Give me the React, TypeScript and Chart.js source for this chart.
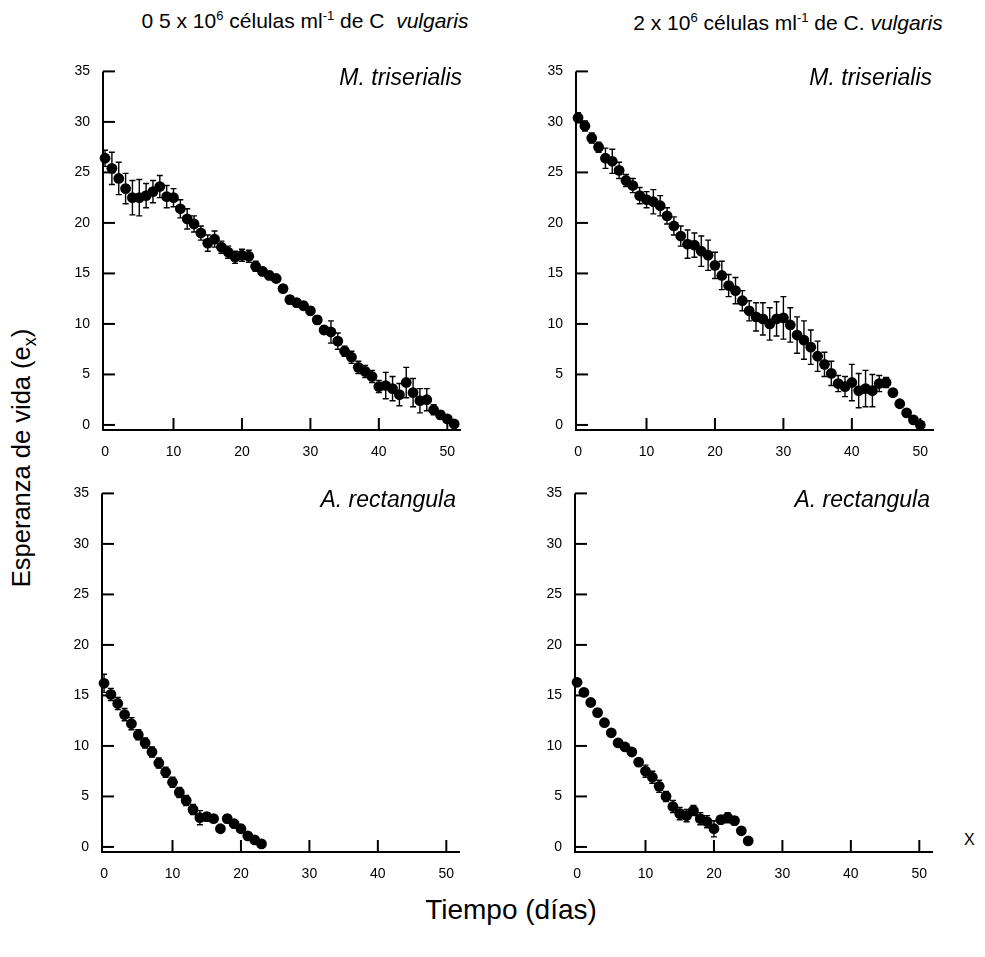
import React, { useEffect, useRef } from "react";
import { Chart, registerables } from "chart.js";

Chart.register(...registerables);

// ---- Data ----
const days = [0, 1, 2, 3, 4, 5, 6, 7, 8, 9, 10, 11, 12, 13, 14, 15, 16, 17, 18, 19, 20, 21, 22, 23, 24, 25, 26, 27, 28, 29, 30, 31, 32, 33, 34, 35, 36, 37, 38, 39, 40, 41, 42, 43, 44, 45, 46, 47, 48, 49, 50, 51];

// M. triserialis, 0.5 x 10^6 cells/ml
const mt05 = [26.4, 25.4, 24.4, 23.4, 22.5, 22.5, 22.7, 23.1, 23.6, 22.6, 22.5, 21.4, 20.4, 19.9, 19.0, 18.0, 18.4, 17.6, 17.1, 16.6, 16.8, 16.7, 15.7, 15.2, 14.8, 14.5, 13.5, 12.4, 12.1, 11.8, 11.3, 10.4, 9.4, 9.2, 8.3, 7.3, 6.7, 5.7, 5.3, 4.8, 3.8, 3.9, 3.6, 3.0, 4.2, 3.2, 2.4, 2.5, 1.5, 1.0, 0.6, 0.1];
const mt05Err = [0.8, 1.6, 1.6, 1.5, 1.7, 1.8, 1.2, 1.1, 1.1, 1.1, 0.9, 0.9, 1.0, 0.8, 0.7, 0.8, 0.8, 0.6, 0.6, 0.6, 0.6, 0.6, 0.5, 0.4, 0.4, 0.3, 0.3, 0.4, 0.4, 0.4, 0.4, 0.4, 0.4, 1.1, 0.8, 0.5, 0.6, 0.6, 0.6, 0.6, 0.6, 1.3, 1.2, 1.1, 1.5, 1.4, 1.2, 1.1, 0.5, 0.4, 0.3, 0.2];

// M. triserialis, 2 x 10^6 cells/ml
const mt2 = [30.4, 29.6, 28.4, 27.5, 26.4, 26.1, 25.2, 24.2, 23.7, 22.7, 22.3, 22.1, 21.7, 20.7, 19.7, 18.7, 17.9, 17.8, 17.2, 16.8, 15.8, 14.8, 13.8, 13.3, 12.3, 11.3, 10.7, 10.5, 10.0, 10.5, 10.6, 9.9, 8.9, 8.4, 7.7, 6.8, 6.0, 5.1, 4.1, 3.8, 4.2, 3.4, 3.6, 3.4, 4.1, 4.2, 3.2, 2.1, 1.2, 0.5, 0.0];
const mt2Err = [0.5, 0.5, 0.5, 0.5, 1.0, 1.2, 0.8, 0.6, 0.7, 0.8, 0.8, 1.2, 1.0, 0.8, 0.9, 1.0, 1.4, 1.2, 1.5, 1.5, 1.3, 1.4, 1.1, 1.3, 1.0, 1.0, 1.4, 1.6, 1.6, 1.7, 2.1, 1.7, 1.8, 1.9, 1.7, 1.5, 1.2, 1.2, 0.8, 1.0, 1.8, 1.7, 1.8, 1.6, 0.8, 0.5, 0.2, 0.2, 0.2, 0.2, 0.2];

// A. rectangula, 0.5 x 10^6 cells/ml
const ar05 = [16.2, 15.1, 14.2, 13.1, 12.2, 11.1, 10.3, 9.4, 8.3, 7.4, 6.4, 5.4, 4.6, 3.7, 2.9, 3.0, 2.8, 1.8, 2.8, 2.3, 1.8, 1.1, 0.7, 0.3];
const ar05Err = [0.9, 0.6, 0.6, 0.6, 0.6, 0.5, 0.5, 0.5, 0.5, 0.5, 0.5, 0.5, 0.5, 0.5, 0.7, 0.4, 0.3, 0.3, 0.4, 0.4, 0.3, 0.3, 0.3, 0.2];

// A. rectangula, 2 x 10^6 cells/ml
const ar2 = [16.3, 15.3, 14.3, 13.3, 12.3, 11.3, 10.3, 9.9, 9.4, 8.4, 7.5, 6.9, 6.0, 5.0, 4.0, 3.3, 3.1, 3.6, 2.8, 2.5, 1.8, 2.7, 2.9, 2.6, 1.6, 0.6];
const ar2Err = [0.3, 0.3, 0.3, 0.3, 0.3, 0.3, 0.3, 0.3, 0.3, 0.3, 0.6, 0.6, 0.6, 0.5, 0.6, 0.6, 0.6, 0.5, 0.6, 0.6, 0.8, 0.4, 0.5, 0.4, 0.3, 0.2];

const yTicks = [0, 5, 10, 15, 20, 25, 30, 35];
const xTicks = [0, 10, 20, 30, 40, 50];

// ---- Geometry ----
const PX_DAY = 6.84;
const PX_UNIT = 10.2;
const X_MIN = -0.3;
const X_MAX = 52;
const Y_MIN = -0.5;
const Y_MAX = 35;
const PAD_L = 40;
const PAD_T = 10;
const PAD_R = 12;
const PAD_B = 32;
const FONT = "'Liberation Sans', Arial, sans-serif";

const axesPlugin = {
  id: "axesAndErrors",
  beforeDatasetsDraw(chart: any) {
    const { ctx, chartArea: a } = chart;
    const x = chart.scales.x;
    const y = chart.scales.y;
    ctx.save();
    ctx.strokeStyle = "#000";
    // error bars
    chart.data.datasets.forEach((ds: any) => {
      const errs: number[] = ds.errors;
      if (!errs) return;
      ctx.lineWidth = 1.4;
      ds.data.forEach((p: any, i: number) => {
        const e = errs[i];
        if (!e) return;
        const px = x.getPixelForValue(p.x);
        const yt = y.getPixelForValue(p.y + e);
        const yb = y.getPixelForValue(p.y - e);
        ctx.beginPath();
        ctx.moveTo(px, yt);
        ctx.lineTo(px, yb);
        ctx.moveTo(px - 3, yt);
        ctx.lineTo(px + 3, yt);
        ctx.moveTo(px - 3, yb);
        ctx.lineTo(px + 3, yb);
        ctx.stroke();
      });
    });
    // axis lines
    ctx.lineWidth = 2;
    ctx.beginPath();
    ctx.moveTo(a.left, y.getPixelForValue(Y_MAX));
    ctx.lineTo(a.left, a.bottom);
    ctx.lineTo(a.right, a.bottom);
    ctx.stroke();
    // inward ticks
    yTicks.forEach((t) => {
      const py = y.getPixelForValue(t);
      ctx.beginPath();
      ctx.moveTo(a.left, py);
      ctx.lineTo(a.left + 12, py);
      ctx.stroke();
    });
    xTicks.forEach((t) => {
      if (t === 0) return;
      const px = x.getPixelForValue(t);
      ctx.beginPath();
      ctx.moveTo(px, a.bottom);
      ctx.lineTo(px, a.bottom - 12);
      ctx.stroke();
    });
    ctx.restore();
  },
};

type PanelProps = {
  values: number[];
  errors: number[];
  x0: number;
  y0: number;
};

function Panel({ values, errors, x0, y0 }: PanelProps) {
  const ref = useRef<HTMLCanvasElement>(null);
  const areaW = (X_MAX - X_MIN) * PX_DAY;
  const areaH = (Y_MAX - Y_MIN) * PX_UNIT;
  const w = Math.round(PAD_L + areaW + PAD_R);
  const h = Math.round(PAD_T + areaH + PAD_B);
  const left = Math.round(x0 + X_MIN * PX_DAY - PAD_L);
  const top = Math.round(y0 - Y_MAX * PX_UNIT - PAD_T);

  useEffect(() => {
    if (!ref.current) return;
    const data = values.map((v, i) => ({ x: days[i], y: v }));
    const chart = new Chart(ref.current, {
      type: "scatter",
      data: {
        datasets: [
          {
            data,
            errors,
            showLine: false,
            pointRadius: 5.4,
            pointHoverRadius: 5.4,
            backgroundColor: "#000",
            borderColor: "#000",
            borderWidth: 0,
            clip: false,
          } as any,
        ],
      },
      options: {
        animation: false,
        responsive: false,
        events: [],
        layout: { padding: { left: 0, top: PAD_T, right: PAD_R, bottom: 0 } },
        plugins: { legend: { display: false }, tooltip: { enabled: false } },
        scales: {
          x: {
            type: "linear",
            min: X_MIN,
            max: X_MAX,
            grid: { display: false },
            border: { display: false },
            afterBuildTicks: (s: any) => {
              s.ticks = xTicks.map((v) => ({ value: v }));
            },
            afterFit: (s: any) => {
              s.height = PAD_B;
            },
            ticks: {
              color: "#000",
              padding: 6,
              maxRotation: 0,
              font: { family: FONT, size: 14 },
            },
          },
          y: {
            type: "linear",
            min: Y_MIN,
            max: Y_MAX,
            grid: { display: false },
            border: { display: false },
            afterBuildTicks: (s: any) => {
              s.ticks = yTicks.map((v) => ({ value: v }));
            },
            afterFit: (s: any) => {
              s.width = PAD_L;
            },
            ticks: {
              color: "#000",
              padding: 5,
              font: { family: FONT, size: 14 },
            },
          },
        },
      },
      plugins: [axesPlugin],
    });
    return () => chart.destroy();
  }, []);

  return (
    <canvas
      ref={ref}
      width={w}
      height={h}
      style={{ position: "absolute", left, top, width: w, height: h }}
    />
  );
}

const abs = (s: React.CSSProperties): React.CSSProperties => ({
  position: "absolute",
  fontFamily: FONT,
  color: "#000",
  whiteSpace: "nowrap",
  lineHeight: 1,
  ...s,
});

const supStyle: React.CSSProperties = { fontSize: "0.62em", verticalAlign: "0.6em", lineHeight: 0 };

export default function App() {
  return (
    <div style={{ position: "absolute", left: 0, top: 0, width: 985, height: 957, background: "#fff" }}>
      {/* column titles */}
      <div style={abs({ left: 130, top: 10, width: 350, textAlign: "center", fontSize: 21 })}>
        0 5 x 10<span style={supStyle}>6</span> células ml<span style={supStyle}>-1</span> de C&nbsp; <i>vulgaris</i>
      </div>
      <div style={abs({ left: 608, top: 12, width: 360, textAlign: "center", fontSize: 21 })}>
        2 x 10<span style={supStyle}>6</span> células ml<span style={supStyle}>-1</span> de C. <i>vulgaris</i>
      </div>

      <Panel values={mt05} errors={mt05Err} x0={105} y0={425} />
      <Panel values={mt2} errors={mt2Err} x0={578} y0={425} />
      <Panel values={ar05} errors={ar05Err} x0={104} y0={847} />
      <Panel values={ar2} errors={ar2Err} x0={577} y0={847} />

      {/* species labels */}
      <div style={abs({ right: 985 - 462, top: 66, fontSize: 23, fontStyle: "italic" })}>M. triserialis</div>
      <div style={abs({ right: 985 - 932, top: 66, fontSize: 23, fontStyle: "italic" })}>M. triserialis</div>
      <div style={abs({ right: 985 - 456, top: 488, fontSize: 23, fontStyle: "italic" })}>A. rectangula</div>
      <div style={abs({ right: 985 - 930, top: 488, fontSize: 23, fontStyle: "italic" })}>A. rectangula</div>

      {/* axis titles */}
      <div
        style={abs({
          left: 22,
          top: 458,
          fontSize: 25.5,
          transform: "translate(-50%, -50%) rotate(-90deg)",
        })}
      >
        Esperanza de vida (e<sub style={{ fontSize: "0.7em", lineHeight: 0 }}>x</sub>)
      </div>
      <div style={abs({ left: 511, top: 910, fontSize: 28, transform: "translate(-50%, -50%)" })}>Tiempo (días)</div>
      <div style={abs({ left: 964, top: 832, fontSize: 16 })}>X</div>
    </div>
  );
}
